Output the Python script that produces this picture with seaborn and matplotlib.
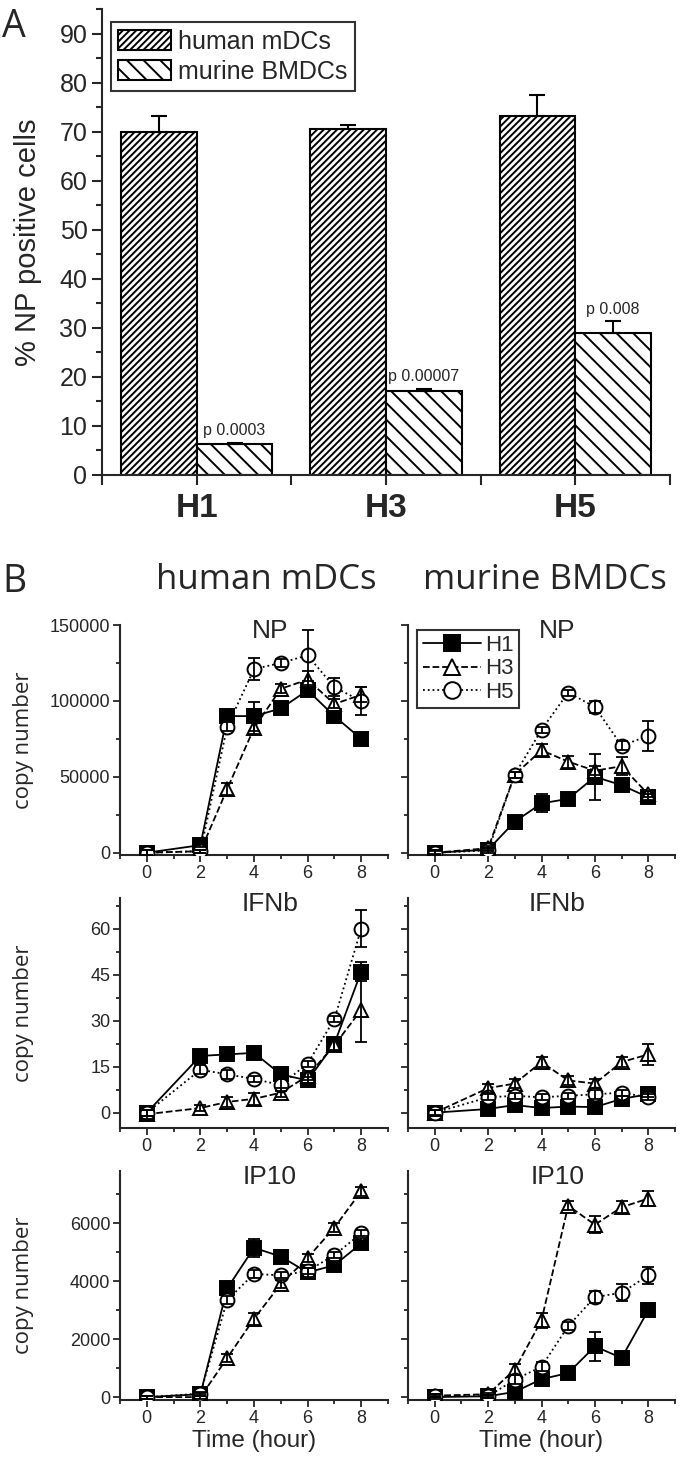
import pandas as pd
import numpy as np
import matplotlib
matplotlib.use('Agg')
import matplotlib.pyplot as plt
from matplotlib.patches import Patch
from matplotlib.lines import Line2D
from matplotlib.ticker import MultipleLocator
import seaborn as sns

# ---- panel A data ----
strains = ['H1', 'H3', 'H5']
cell_types = ['human mDCs', 'murine BMDCs']
human_pct = [70.0, 70.6, 73.2]
human_err = [3.2, 0.8, 4.3]
murine_pct = [6.3, 17.2, 28.9]
murine_err = [0.3, 0.3, 2.4]
p_labels = ['p 0.0003', 'p 0.00007', 'p 0.008']

# ---- panel B data ----
times = [0, 2, 3, 4, 5, 6, 7, 8]
series = ['H1', 'H3', 'H5']

np_human_h1 = [0, 5000, 90000, 90000, 95000, 107000, 90000, 75000]
np_human_h1_err = [1500, 1500, 2000, 9500, 2500, 3500, 3000, 2000]
np_human_h3 = [0, 1000, 42000, 82000, 108000, 114000, 98000, 104000]
np_human_h3_err = [2000, 1000, 4000, 4000, 3000, 6000, 3000, 5000]
np_human_h5 = [0, 1000, 83000, 121000, 125000, 130000, 109000, 100000]
np_human_h5_err = [1500, 1000, 3000, 7000, 2500, 17000, 6000, 9000]

np_murine_h1 = [0, 2000, 20500, 32500, 35500, 50000, 44500, 36500]
np_murine_h1_err = [1000, 1000, 1500, 6000, 2000, 15000, 2000, 2000]
np_murine_h3 = [0, 3000, 51500, 67500, 60000, 54000, 57000, 38500]
np_murine_h3_err = [1500, 1500, 2000, 4000, 4000, 3000, 6000, 2000]
np_murine_h5 = [0, 1500, 51500, 81000, 105500, 96000, 70500, 77000]
np_murine_h5_err = [1500, 1500, 2000, 2000, 2000, 4000, 3000, 10000]

ifnb_human_h1 = [0, 18.5, 19, 19.5, 12.5, 10.5, 22.5, 46]
ifnb_human_h1_err = [1, 1.5, 1, 1, 1.5, 1, 2, 3]
ifnb_human_h3 = [-0.5, 1.5, 3.5, 4.5, 6.5, 12, 22, 33.5]
ifnb_human_h3_err = [1.5, 1, 1.5, 2, 1.5, 1.5, 2, 10.5]
ifnb_human_h5 = [0, 14, 12.5, 11, 9, 16, 30.5, 60]
ifnb_human_h5_err = [1, 1.5, 1.5, 1, 2, 1, 1, 6]

ifnb_murine_h1 = [0, 1.2, 2.5, 1.5, 2, 1.8, 4.5, 6]
ifnb_murine_h1_err = [0.8, 0.8, 0.8, 0.8, 0.8, 0.8, 0.8, 0.8]
ifnb_murine_h3 = [0, 8, 9.5, 16.5, 10.5, 9.5, 16.5, 19]
ifnb_murine_h3_err = [1, 1.5, 1.5, 1.5, 1.5, 1.5, 1.5, 3.5]
ifnb_murine_h5 = [0, 5, 5.5, 5, 5.5, 6, 6.5, 5]
ifnb_murine_h5_err = [1, 1, 1, 1, 1, 1.5, 1, 1]

ip10_human_h1 = [0, 100, 3750, 5150, 4850, 4300, 4550, 5300]
ip10_human_h1_err = [50, 50, 100, 300, 200, 150, 150, 200]
ip10_human_h3 = [0, 0, 1350, 2700, 3900, 4800, 5850, 7100]
ip10_human_h3_err = [50, 50, 150, 200, 150, 150, 150, 150]
ip10_human_h5 = [0, 120, 3350, 4250, 4200, 4350, 4900, 5650]
ip10_human_h5_err = [50, 50, 150, 150, 100, 100, 100, 100]

ip10_murine_h1 = [0, 30, 180, 620, 830, 1750, 1350, 3000]
ip10_murine_h1_err = [50, 50, 100, 100, 100, 500, 100, 150]
ip10_murine_h3 = [50, 100, 950, 2650, 6600, 5950, 6550, 6850]
ip10_murine_h3_err = [50, 50, 200, 250, 150, 300, 200, 250]
ip10_murine_h5 = [50, 30, 600, 1050, 2450, 3450, 3600, 4200]
ip10_murine_h5_err = [50, 50, 150, 150, 150, 200, 300, 300]

genes = ['NP', 'IFNb', 'IP10']
gene_ylim = {'NP': (-1500, 150000), 'IFNb': (-5, 70), 'IP10': (-100, 7800)}
gene_major = {'NP': 50000, 'IFNb': 15, 'IP10': 2000}
gene_minor = {'NP': 25000, 'IFNb': 7.5, 'IP10': 1000}

panel_data = {
    ('NP', 'human'): [(np_human_h1, np_human_h1_err), (np_human_h3, np_human_h3_err), (np_human_h5, np_human_h5_err)],
    ('NP', 'murine'): [(np_murine_h1, np_murine_h1_err), (np_murine_h3, np_murine_h3_err), (np_murine_h5, np_murine_h5_err)],
    ('IFNb', 'human'): [(ifnb_human_h1, ifnb_human_h1_err), (ifnb_human_h3, ifnb_human_h3_err), (ifnb_human_h5, ifnb_human_h5_err)],
    ('IFNb', 'murine'): [(ifnb_murine_h1, ifnb_murine_h1_err), (ifnb_murine_h3, ifnb_murine_h3_err), (ifnb_murine_h5, ifnb_murine_h5_err)],
    ('IP10', 'human'): [(ip10_human_h1, ip10_human_h1_err), (ip10_human_h3, ip10_human_h3_err), (ip10_human_h5, ip10_human_h5_err)],
    ('IP10', 'murine'): [(ip10_murine_h1, ip10_murine_h1_err), (ip10_murine_h3, ip10_murine_h3_err), (ip10_murine_h5, ip10_murine_h5_err)],
}

sns.set_style('ticks')
plt.rcParams['font.family'] = ['Liberation Sans', 'DejaVu Sans']
plt.rcParams['hatch.linewidth'] = 1.4
plt.rcParams['axes.linewidth'] = 1.5

W, H = 680, 1463
fig = plt.figure(figsize=(W / 100, H / 100), dpi=100)


def px_axes(left, top, right, bottom):
    return fig.add_axes([left / W, 1 - bottom / H, (right - left) / W, (bottom - top) / H])


# ================= panel A =================
axA = px_axes(102, 9, 670, 475)
bar_df = pd.DataFrame({
    'strain': strains * 2,
    'cell': [cell_types[0]] * 3 + [cell_types[1]] * 3,
    'pct': human_pct + murine_pct,
})
sns.barplot(data=bar_df, x='strain', y='pct', hue='cell', ax=axA,
            palette=['white', 'white'], edgecolor='black', linewidth=1.5,
            errorbar=None, legend=False, saturation=1)
hatches = ['/////', '\\\\']
errs = [human_err, murine_err]
for container, hatch, err in zip(axA.containers, hatches, errs):
    xs = []
    tops = []
    for bar in container:
        bar.set_hatch(hatch)
        bar.set_edgecolor('black')
        xs.append(bar.get_x() + bar.get_width() / 2)
        tops.append(bar.get_height())
    axA.errorbar(xs, tops, yerr=[np.zeros(len(err)), err], fmt='none',
                 ecolor='black', elinewidth=1.5, capsize=6, capthick=1.5)
murine_bars = list(axA.containers[1])
for bar, lab, e in zip(murine_bars, p_labels, murine_err):
    axA.text(bar.get_x() + bar.get_width() / 2, bar.get_height() + e + 1.0, lab,
             ha='center', va='bottom', fontsize=11.5)

axA.set_xlim(-0.5, 2.5)
axA.set_ylim(0, 95)
axA.yaxis.set_major_locator(MultipleLocator(10))
axA.yaxis.set_minor_locator(MultipleLocator(5))
axA.xaxis.set_minor_locator(MultipleLocator(0.5))
axA.set_yticks(np.arange(0, 91, 10))
axA.tick_params(axis='y', which='major', labelsize=18, length=7, width=1.5, direction='out')
axA.tick_params(axis='y', which='minor', length=4, width=1.5, direction='out')
axA.tick_params(axis='x', which='both', length=7, width=1.5, direction='out')
axA.tick_params(axis='x', which='major', labelsize=24, pad=6)
for lab in axA.get_xticklabels():
    lab.set_fontweight('bold')
axA.set_xlabel('')
axA.set_ylabel('% NP positive cells', fontsize=21)
axA.yaxis.set_label_coords(-0.105, 0.5)
sns.despine(ax=axA)

legA = axA.legend(handles=[Patch(facecolor='white', edgecolor='black', hatch=h, linewidth=1.5)
                           for h in hatches],
                  labels=cell_types, loc='upper left', bbox_to_anchor=(0.015, 0.972),
                  fontsize=18, frameon=True, fancybox=False, edgecolor='black',
                  handlelength=2.1, handleheight=0.85, handletextpad=0.3,
                  labelspacing=0.25, borderpad=0.3, borderaxespad=0)
legA.get_frame().set_linewidth(1.5)

fig.text(2 / W, 1 - 8 / H, 'A', fontsize=27, va='top', ha='left', family='Open Sans')

# ================= panel B =================
fig.text(2 / W, 1 - 563 / H, 'B', fontsize=27, va='top', ha='left', family='Open Sans')
fig.text(266 / W, 1 - 580 / H, 'human mDCs', fontsize=25, va='center', ha='center', family='Open Sans')
fig.text(545 / W, 1 - 580 / H, 'murine BMDCs', fontsize=25, va='center', ha='center', family='Open Sans')

row_px = {'NP': (625, 855), 'IFNb': (898, 1128), 'IP10': (1171, 1400)}
col_px = {'human': (120, 388), 'murine': (408, 675)}
styles = [('s', '-', 'black'), ('^', '--', 'white'), ('o', ':', 'white')]

for gene in genes:
    for col in ['human', 'murine']:
        top, bottom = row_px[gene]
        left, right = col_px[col]
        ax = px_axes(left, top, right, bottom)
        for name, (vals, err), (mk, ls, fc) in zip(series, panel_data[(gene, col)], styles):
            sns.lineplot(x=times, y=vals, ax=ax, color='black', linestyle=ls, linewidth=1.3,
                         marker=mk, markersize=10, markerfacecolor=fc, markeredgecolor='black',
                         markeredgewidth=1.4, zorder=3)
            ax.errorbar(times, vals, yerr=err, fmt='none', ecolor='black',
                        elinewidth=1.3, capsize=4, capthick=1.3, zorder=4)
        ax.set_xlim(-1, 9)
        ax.set_ylim(*gene_ylim[gene])
        ax.xaxis.set_major_locator(MultipleLocator(2))
        ax.xaxis.set_minor_locator(MultipleLocator(1))
        ax.yaxis.set_major_locator(MultipleLocator(gene_major[gene]))
        ax.yaxis.set_minor_locator(MultipleLocator(gene_minor[gene]))
        ax.set_xticks([0, 2, 4, 6, 8])
        ax.tick_params(which='major', labelsize=13, length=5, width=1.3, direction='out', pad=2)
        ax.tick_params(which='minor', length=3, width=1.3, direction='out')
        sns.despine(ax=ax)
        ax.text(4.6, 0.975, gene, transform=ax.get_xaxis_transform(), ha='center', va='center',
                fontsize=19)
        if col == 'human':
            yt = np.arange(0, gene_ylim[gene][1] + 1, gene_major[gene])
            ax.set_yticks(yt)
            ax.set_yticklabels([f'{v:g}' for v in yt])
            ax.set_ylabel('copy number', fontsize=16, family='Open Sans')
            ax.yaxis.set_label_coords(-0.32, 0.5)
        else:
            ax.set_yticklabels([])
            ax.set_ylabel('')
        if gene == 'IP10':
            ax.set_xlabel('Time (hour)', fontsize=17.5, labelpad=2)
        else:
            ax.set_xlabel('')
        if gene == 'NP' and col == 'murine':
            handles = [Line2D([], [], color='black', linestyle=ls, linewidth=1.3, marker=mk,
                              markersize=12, markerfacecolor=fc, markeredgecolor='black',
                              markeredgewidth=1.4) for mk, ls, fc in styles]
            leg = ax.legend(handles=handles, labels=series, loc='upper left',
                            bbox_to_anchor=(0.035, 0.98), fontsize=16, frameon=True,
                            fancybox=False, edgecolor='black', handlelength=2.6,
                            handletextpad=0.2, labelspacing=0.1, borderpad=0.25,
                            borderaxespad=0)
            leg.get_frame().set_linewidth(1.5)

fig.savefig('out.png', dpi=100)
